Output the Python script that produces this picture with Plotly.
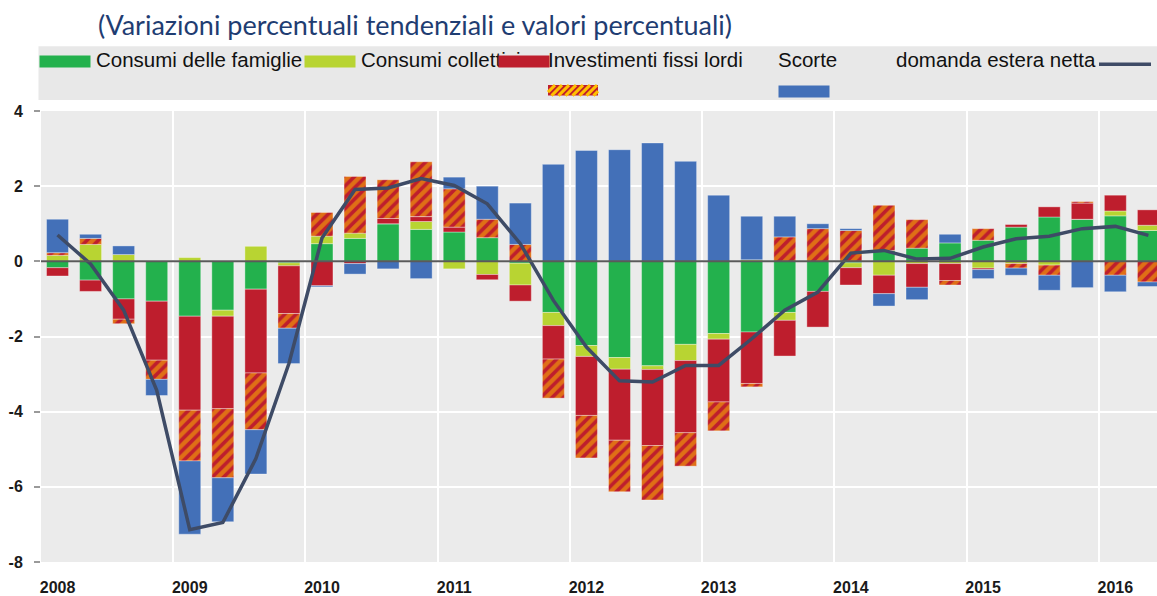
import plotly.graph_objects as go

# --- dati (trimestrali, 2008T1 - 2016T2) ---
anni = [2008, 2009, 2010, 2011, 2012, 2013, 2014, 2015, 2016]
periodi = [f"{a}T{q}" for a in anni for q in (1, 2, 3, 4)][:34]

consumi_famiglie = [-0.17, -0.50, -1.00, -1.06, -1.46, -1.30, -0.74, -0.04, 0.47, 0.61,
                    1.00, 0.85, 0.78, 0.63, -0.05, -1.36, -2.24, -2.56, -2.78, -2.21,
                    -1.92, -1.88, -1.36, -0.80, -0.04, 0.29, 0.35, 0.49, 0.56, 0.91,
                    1.18, 1.12, 1.21, 0.82]
consumi_collettivi = [0.16, 0.45, 0.18, 0.00, 0.10, -0.16, 0.40, -0.08, 0.20, 0.14,
                      0.00, 0.21, -0.20, -0.35, -0.58, -0.35, -0.29, -0.31, -0.10, -0.43,
                      -0.15, 0.04, -0.21, 0.00, -0.13, -0.37, -0.06, -0.06, -0.18, -0.06,
                      -0.10, 0.00, 0.13, 0.14]
investimenti = [-0.22, -0.30, -0.54, -1.57, -2.50, -2.46, -2.23, -1.27, -0.65, -0.06,
                0.14, 0.13, 0.13, -0.14, -0.43, -0.89, -1.57, -1.89, -2.02, -1.92,
                -1.67, -1.37, -0.95, -0.95, -0.46, -0.49, -0.63, -0.45, -0.04, 0.07,
                0.27, 0.43, 0.42, 0.41]
scorte = [0.07, 0.16, -0.12, -0.51, -1.35, -1.84, -1.51, -0.39, 0.63, 1.51,
          1.03, 1.46, 1.02, 0.49, 0.45, -1.04, -1.13, -1.37, -1.45, -0.89,
          -0.77, -0.09, 0.65, 0.87, 0.82, 1.20, 0.76, -0.12, 0.31, -0.12,
          -0.27, 0.04, -0.37, -0.55]
domanda_estera = [0.89, 0.11, 0.23, -0.43, -1.95, -1.17, -1.18, -0.94, -0.03, -0.28,
                  -0.20, -0.46, 0.31, 0.88, 1.10, 2.58, 2.95, 2.97, 3.15, 2.66,
                  1.76, 1.16, 0.55, 0.13, 0.05, -0.33, -0.33, 0.23, -0.24, -0.19,
                  -0.40, -0.70, -0.44, -0.12]
pil = [0.70, -0.07, -1.30, -3.43, -7.14, -6.95, -5.25, -2.72, 0.62, 1.91,
       1.95, 2.20, 2.02, 1.53, 0.47, -1.04, -2.28, -3.18, -3.21, -2.77,
       -2.77, -2.06, -1.30, -0.82, 0.22, 0.29, 0.06, 0.08, 0.38, 0.60,
       0.67, 0.87, 0.93, 0.69]

y_ticks = [4, 2, 0, -2, -4, -6, -8]

VERDE = "#23b14d"
GIALLO = "#b8d432"
ROSSO = "#be1e2d"
ARANCIO = "#ffc000"
BLU = "#4370b8"
LINEA = "#3e4b66"

x = list(range(len(periodi)))

# geometria in pixel (area del grafico)
W, H = 1157, 596
L, R, T, B = 41, 1157, 111, 564


def px(v):
    return (v - L) / (R - L)


def py(v):
    return (B - v) / (B - T)


fig = go.Figure()
bordo = dict(color="rgba(255,255,255,0.35)", width=1)
fig.add_bar(x=x, y=consumi_famiglie, name="Consumi delle famiglie",
            marker=dict(color=VERDE, line=bordo))
fig.add_bar(x=x, y=consumi_collettivi, name="Consumi collettivi",
            marker=dict(color=GIALLO, line=bordo))
fig.add_bar(x=x, y=investimenti, name="Investimenti fissi lordi",
            marker=dict(color=ROSSO, line=bordo))
fig.add_bar(x=x, y=scorte, name="Scorte",
            marker=dict(color=ROSSO, line=bordo,
                        pattern=dict(shape="/", bgcolor=ROSSO, fgcolor=ARANCIO,
                                     size=8, solidity=0.55)))
fig.add_bar(x=x, y=domanda_estera, name="domanda estera netta",
            marker=dict(color=BLU, line=bordo))
fig.add_scatter(x=x, y=pil, mode="lines", name="PIL",
                line=dict(color=LINEA, width=3.5))

tick_font = dict(family="Liberation Sans, Arial", size=16, color="#1a1a1a", weight="bold")

fig.update_layout(
    width=W, height=H,
    margin=dict(l=L, r=W - R, t=T, b=H - B, pad=0),
    barmode="relative",
    bargap=0.335,
    showlegend=False,
    paper_bgcolor="white",
    plot_bgcolor="#ebebeb",
    xaxis=dict(
        range=[-0.5, 33.26],
        tickvals=[i * 4 for i in range(len(anni))],
        ticktext=[str(a) for a in anni],
        tickfont=tick_font,
        showgrid=False, zeroline=False, ticks="",
        ticklabelstandoff=14,
        minor=dict(tickvals=[i * 4 - 0.5 for i in range(1, len(anni))],
                   showgrid=True, gridcolor="white", gridwidth=2, ticks=""),
    ),
    yaxis=dict(
        range=[-8, 4],
        tickvals=y_ticks,
        ticktext=[str(v) for v in y_ticks],
        tickfont=tick_font,
        showgrid=True, gridcolor="white", gridwidth=1.5,
        zeroline=False,
        ticks="outside", ticklen=6, tickcolor="#9a9a9a", tickwidth=1.5,
        ticklabelstandoff=8,
    ),
)

# linea dello zero sopra le barre
fig.add_shape(type="line", xref="paper", x0=0, x1=1, yref="y", y0=0, y1=0,
              line=dict(color="#5a5a5a", width=2), layer="above")

# titolo
fig.add_annotation(text="(Variazioni percentuali tendenziali e valori percentuali)",
                   xref="paper", yref="paper", x=px(96), y=py(24),
                   xanchor="left", yanchor="middle", showarrow=False,
                   font=dict(family="Lato", size=27, color="#1f3d72"))

# legenda disegnata a mano (come nell'originale)
fig.add_shape(type="rect", xref="paper", yref="paper",
              x0=px(38.5), x1=px(1160), y0=py(100), y1=py(46),
              fillcolor="#e8e8e8", line=dict(width=0), layer="below")

leg_font = dict(family="Liberation Sans, Arial", size=20.5, color="#111111")
etichette = [("Consumi delle famiglie", 94), ("Consumi collettivi", 359),
             ("Investimenti fissi lordi", 546), ("Scorte", 776),
             ("domanda estera netta", 894)]
for testo, xx in etichette:
    fig.add_annotation(text=testo, xref="paper", yref="paper", x=px(xx), y=py(59),
                       xanchor="left", yanchor="middle", showarrow=False, font=leg_font)

riquadri = [(VERDE, 38.5, 55), (GIALLO, 304, 55), (ROSSO, 498, 55), (BLU, 778, 85)]
for col, xx, yy in riquadri:
    fig.add_annotation(text=" ", xref="paper", yref="paper", x=px(xx), y=py(yy),
                       xanchor="left", yanchor="top", showarrow=False,
                       width=50, height=11, borderpad=0, bgcolor=col,
                       font=dict(size=1))

# riquadro tratteggiato (Scorte)
hx0, hx1, hy0, hy1 = 548, 598, 85, 95.5
fig.add_shape(type="rect", xref="paper", yref="paper",
              x0=px(hx0), x1=px(hx1), y0=py(hy1), y1=py(hy0),
              fillcolor=ROSSO, line=dict(width=0), layer="above")
hh = hy1 - hy0
c = hx0 - hh
while c < hx1:
    sx, sy = c, hy1
    ex, ey = c + hh, hy0
    if sx < hx0:
        sy = hy1 - (hx0 - c)
        sx = hx0
    if ex > hx1:
        ey = hy1 - (hx1 - c)
        ex = hx1
    if ex > sx:
        fig.add_shape(type="line", xref="paper", yref="paper",
                      x0=px(sx), y0=py(sy), x1=px(ex), y1=py(ey),
                      line=dict(color=ARANCIO, width=3), layer="above")
    c += 7

# simbolo linea PIL
fig.add_shape(type="line", xref="paper", yref="paper",
              x0=px(1099), x1=px(1151), y0=py(64), y1=py(64),
              line=dict(color=LINEA, width=3.5), layer="above")

# niente margine della pagina: la figura occupa esattamente la finestra
fig.write_html("out.html",
               config={"displayModeBar": False},
               post_script="document.body.style.margin='0';"
                           "document.body.style.overflow='hidden';")
